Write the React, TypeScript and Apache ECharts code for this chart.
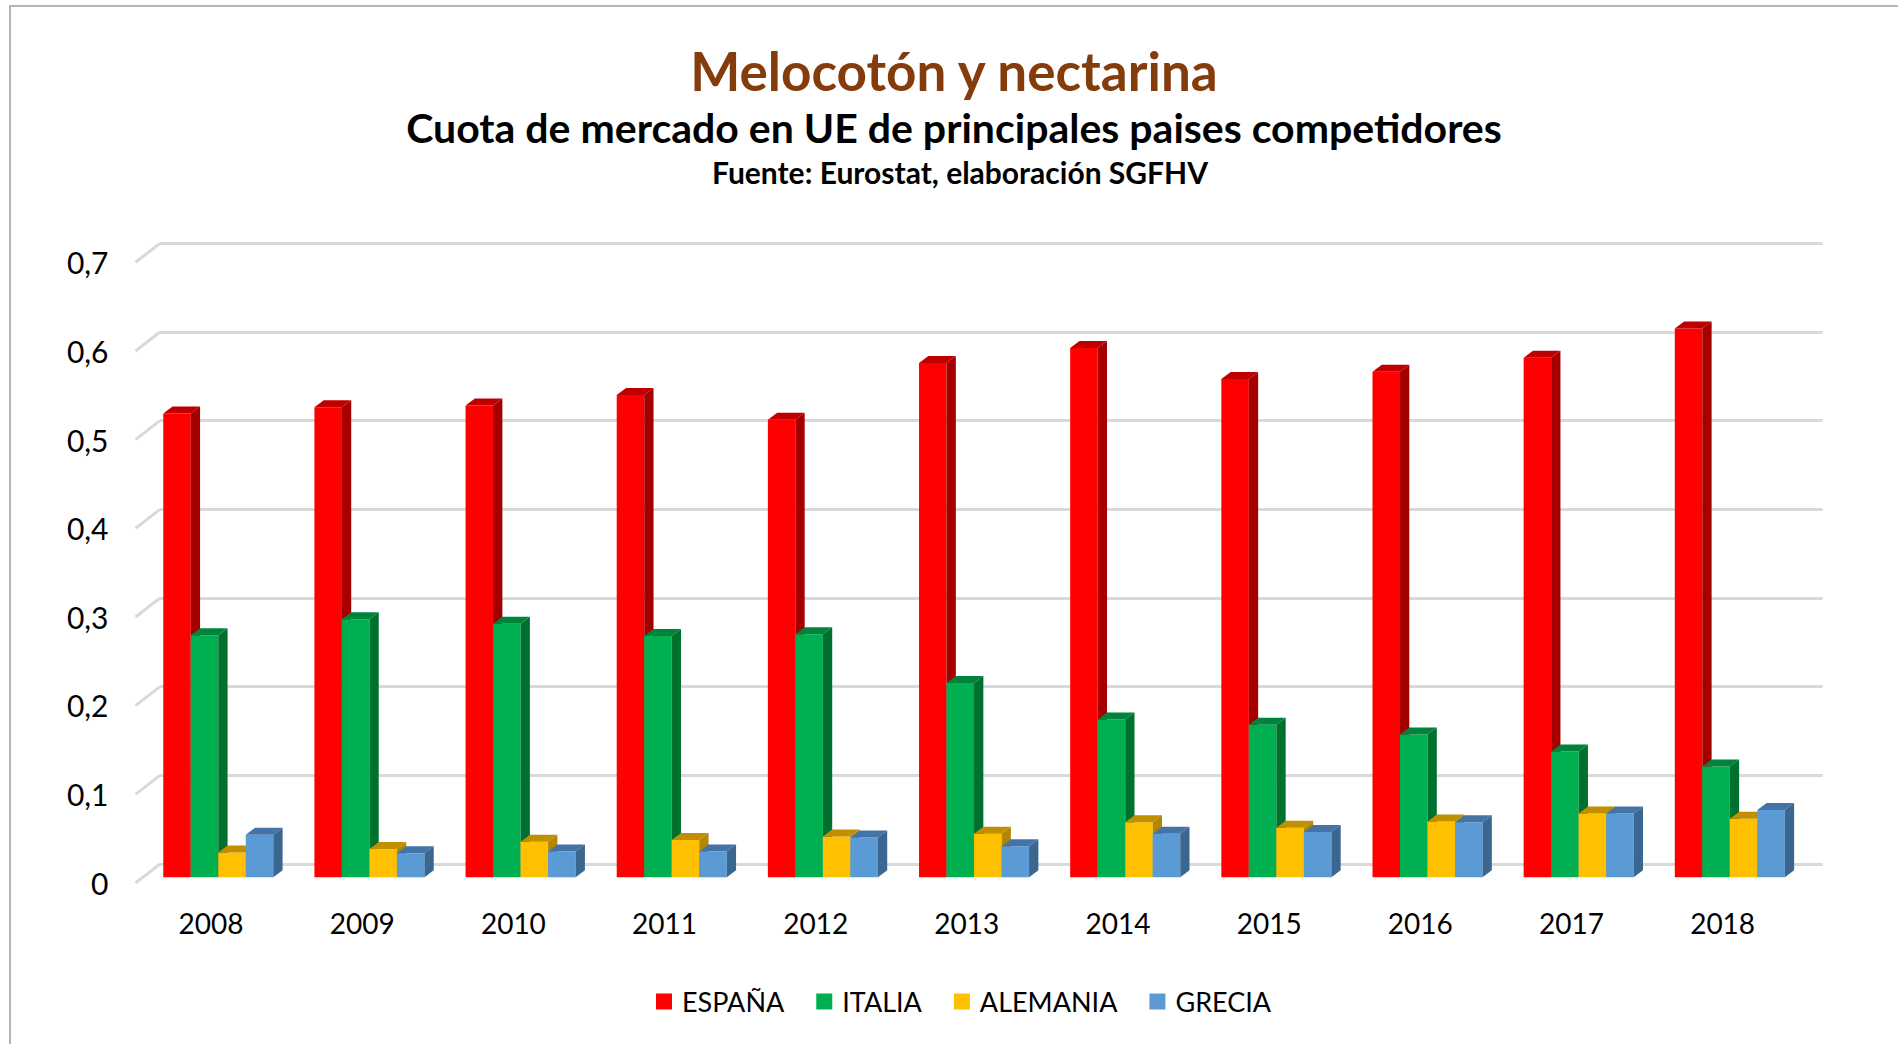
import React, { useEffect, useRef } from "react";
import * as echarts from "echarts";

const years = ["2008", "2009", "2010", "2011", "2012", "2013", "2014", "2015", "2016", "2017", "2018"];
const espana = [0.523, 0.530, 0.532, 0.544, 0.516, 0.580, 0.597, 0.562, 0.570, 0.586, 0.619];
const italia = [0.273, 0.291, 0.286, 0.272, 0.274, 0.219, 0.178, 0.172, 0.161, 0.142, 0.125];
const alemania = [0.028, 0.032, 0.040, 0.042, 0.046, 0.049, 0.062, 0.056, 0.063, 0.072, 0.066];
const grecia = [0.048, 0.027, 0.029, 0.029, 0.045, 0.035, 0.049, 0.051, 0.062, 0.072, 0.076];
const seriesNames = ["ESPAÑA", "ITALIA", "ALEMANIA", "GRECIA"];
const yTicks = [0, 0.1, 0.2, 0.3, 0.4, 0.5, 0.6, 0.7];

const FONT = "Lato";
const frontColors = ["#FF0000", "#00B050", "#FFC000", "#5B9BD5"];
const topColors = ["#C00000", "#00843C", "#C09000", "#4474A6"];
const sideColors = ["#A50000", "#00702F", "#B38600", "#3A6690"];

// oblique depth offsets (pixels)
const BAR_DX = 9.3;
const BAR_DY = 7;
const FLOOR_DX = -24.5;
const FLOOR_DY = 19;

function barRenderer(k: number) {
  return (params: any, api: any) => {
    const i = api.value(0);
    const v = api.value(1);
    const top = api.coord([i, v]);
    const base = api.coord([i, 0]);
    const band = api.size([1, 0])[0];
    const groupW = band * 0.728;
    const bw = groupW / 4;
    const x0 = top[0] - groupW / 2 + k * bw;
    const x1 = x0 + bw;
    const yt = top[1];
    const yb = base[1];
    return {
      type: "group",
      children: [
        {
          type: "rect",
          shape: { x: x0, y: yt, width: bw, height: yb - yt },
          style: { fill: frontColors[k] },
        },
        {
          type: "polygon",
          shape: { points: [[x0, yt], [x0 + BAR_DX, yt - BAR_DY], [x1 + BAR_DX, yt - BAR_DY], [x1, yt]] },
          style: { fill: topColors[k] },
        },
        {
          type: "polygon",
          shape: { points: [[x1, yt], [x1 + BAR_DX, yt - BAR_DY], [x1 + BAR_DX, yb - BAR_DY], [x1, yb]] },
          style: { fill: sideColors[k] },
        },
      ],
    };
  };
}

export default function App() {
  const ref = useRef<HTMLDivElement>(null);
  useEffect(() => {
    if (!ref.current) return;
    const chart = echarts.init(ref.current, null, { renderer: "svg" });
    const values = [espana, italia, alemania, grecia];
    const option: any = {
      animation: false,
      backgroundColor: "#ffffff",
      textStyle: { fontFamily: FONT },
      graphic: [
        {
          type: "rect",
          silent: true,
          shape: { x: 10, y: 6, width: 2000, height: 1200 },
          style: { fill: "none", stroke: "#b4b4b4", lineWidth: 2 },
          z: 0,
        },
        {
          type: "text",
          x: 954,
          y: 70,
          style: {
            text: "Melocotón y nectarina",
            fontFamily: FONT,
            fontWeight: "bold",
            fontSize: 53,
            fill: "#843C0C",
            align: "center",
            verticalAlign: "middle",
          },
        },
        {
          type: "text",
          x: 954,
          y: 127,
          style: {
            text: "Cuota de mercado en UE de principales paises competidores",
            fontFamily: FONT,
            fontWeight: "bold",
            fontSize: 41,
            fill: "#000000",
            align: "center",
            verticalAlign: "middle",
          },
        },
        {
          type: "text",
          x: 960,
          y: 172,
          style: {
            text: "Fuente: Eurostat, elaboración SGFHV",
            fontFamily: FONT,
            fontWeight: "bold",
            fontSize: 30,
            fill: "#000000",
            align: "center",
            verticalAlign: "middle",
          },
        },
      ],
      legend: {
        data: seriesNames,
        left: 651,
        top: 983,
        icon: "rect",
        itemWidth: 16,
        itemHeight: 16,
        itemGap: 32,
        textStyle: { fontSize: 27, color: "#000", fontFamily: FONT, padding: [0, 0, 0, 5] },
      },
      grid: [
        { left: 160, top: 243.3, width: 1662.7, height: 620.7 },
        { left: 135.5, top: 262.3, width: 1662.7, height: 620.4 },
        { left: 142.7, top: 256.6, width: 1662.7, height: 620.7 },
      ],
      xAxis: [
        { gridIndex: 0, type: "value", min: 0, max: 11, show: false },
        {
          gridIndex: 1,
          type: "category",
          data: years,
          axisLine: { show: false },
          axisTick: { show: false },
          axisLabel: { fontSize: 28, color: "#000", margin: 26, fontFamily: FONT },
        },
        { gridIndex: 2, type: "category", data: years, show: false },
      ],
      yAxis: [
        {
          gridIndex: 0,
          type: "value",
          min: 0,
          max: 0.7,
          interval: 0.1,
          axisLabel: { show: false },
          axisLine: { show: false },
          axisTick: { show: false },
          splitLine: { show: true, lineStyle: { color: "#d9d9d9", width: 3 } },
        },
        {
          gridIndex: 1,
          type: "value",
          min: 0,
          max: 0.7,
          interval: 0.1,
          axisLine: { show: false },
          axisTick: { show: false },
          splitLine: { show: false },
          axisLabel: {
            fontSize: 30,
            color: "#000",
            margin: 27,
            fontFamily: FONT,
            formatter: (v: number) => (v === 0 ? "0" : v.toFixed(1).replace(".", ",")),
          },
        },
        { gridIndex: 2, type: "value", min: 0, max: 0.7, interval: 0.1, show: false },
      ],
      series: [
        {
          name: "floor",
          type: "custom",
          xAxisIndex: 0,
          yAxisIndex: 0,
          silent: true,
          z: 1,
          data: yTicks.map((v) => [0, v]),
          renderItem: (params: any, api: any) => {
            const p = api.coord([0, api.value(1)]);
            return {
              type: "line",
              shape: { x1: p[0] + FLOOR_DX, y1: p[1] + FLOOR_DY, x2: p[0], y2: p[1] },
              style: { stroke: "#d9d9d9", lineWidth: 3 },
            };
          },
        },
        ...seriesNames.map((name, k) => ({
          name,
          type: "custom",
          xAxisIndex: 2,
          yAxisIndex: 2,
          z: 3,
          itemStyle: { color: frontColors[k] },
          encode: { x: 0, y: 1 },
          data: values[k].map((v, i) => [i, v]),
          renderItem: barRenderer(k),
        })),
      ],
    };
    chart.setOption(option);
    return () => chart.dispose();
  }, []);
  return (
    <div
      ref={ref}
      style={{ position: "fixed", left: 0, top: 0, width: 1898, height: 1044, background: "#fff" }}
    />
  );
}
